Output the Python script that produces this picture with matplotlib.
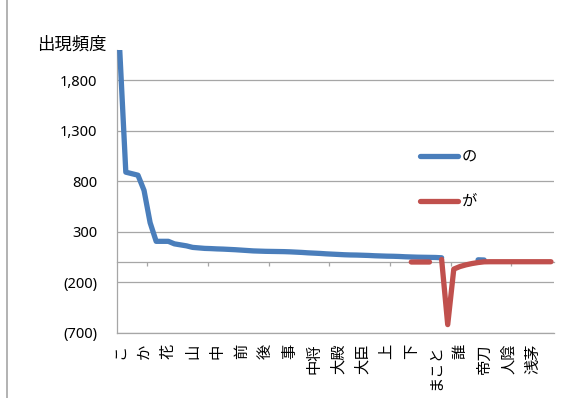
import numpy as np
import matplotlib
matplotlib.use("Agg")
import matplotlib.pyplot as plt
from matplotlib.lines import Line2D

plt.rcParams['font.family'] = ['Noto Sans CJK JP', 'DejaVu Sans']

# 72 words on the category axis, every 4th one is labelled
n_cat = 72
label_words = ['こ', 'か', '花', '山', '中', '前', '後', '事', '中将', '大殿',
               '大臣', '上', '下', 'まこと', '誰', '帝刀', '人陰', '浅茅']
label_pos = np.arange(0, n_cat, 4)

# frequency before "の" (categories 0..53)
no_freq = [2100, 890, 875, 860, 710, 390, 205, 205, 205, 180,
           170, 160, 145, 140, 135, 133, 130, 128, 125, 122,
           118, 114, 110, 108, 106, 105, 104, 103, 101, 98,
           95, 91, 88, 85, 81, 78, 75, 72, 70, 69,
           67, 65, 62, 60, 58, 57, 55, 52, 50, 48,
           47, 46, 45, 42]
no_extra = {59: 22, 60: 20}

# frequency before "が" (categories 48..71, 52 missing)
ga_start = 48
ga_freq = [0, 0, 0, 0, np.nan, 25, -620, -70, -45, -28,
           -15, -5, 2, 3, 3, 3, 3, 3, 3, 3,
           3, 3, 3, 3]

no_series = np.full(n_cat, np.nan)
no_series[:len(no_freq)] = no_freq
for k, v in no_extra.items():
    no_series[k] = v
ga_series = np.full(n_cat, np.nan)
ga_series[ga_start:ga_start + len(ga_freq)] = ga_freq

blue = '#4a7ebb'
red = '#c0504d'
grid = '#a6a6a6'

fig = plt.figure(figsize=(5.69, 3.98), dpi=100)
ax = fig.add_axes([116.7 / 569, 1 - 332.7 / 398, (554 - 116.7) / 569, (332.7 - 50) / 398])

x = np.arange(n_cat)
ax.plot(x, no_series, color=blue, lw=3.8, solid_capstyle='round',
        solid_joinstyle='round', zorder=3, label='の')
ax.plot(x, ga_series, color=red, lw=3.8, solid_capstyle='round',
        solid_joinstyle='round', zorder=4, label='が')

ax.set_xlim(-0.5, n_cat - 0.5)
ax.set_ylim(-700, 2100)

yt = [-700, -200, 300, 800, 1300, 1800]
ax.set_yticks(yt)
ax.set_yticklabels([f'({-v:,})' if v < 0 else f'{v:,}' for v in yt],
                   family=['Noto Sans', 'DejaVu Sans'], fontsize=10.5)
ax.tick_params(axis='y', length=0, pad=14)
ax.yaxis.grid(True, color=grid, lw=0.9)
ax.set_axisbelow(True)

ax.set_xticks(label_pos)
ax.set_xticklabels(label_words, rotation=90, va='top', ha='center', fontsize=11)
ax.tick_params(axis='x', length=0, pad=8)

for s in ['top', 'right']:
    ax.spines[s].set_visible(False)
for s in ['left', 'bottom']:
    ax.spines[s].set_color(grid)
    ax.spines[s].set_linewidth(0.9)

# category axis line with tick marks crosses at zero
zero_ax = ax.secondary_xaxis(0, transform=ax.transData)
zero_ax.set_xticks(np.arange(4.5, n_cat, 10))
zero_ax.set_xticklabels([])
zero_ax.tick_params(axis='x', direction='out', length=3, width=0.9, color=grid)
zero_ax.spines['bottom'].set_color(grid)
zero_ax.spines['bottom'].set_linewidth(0.9)

fig.text(37 / 569, 1 - 45 / 398, '出現頻度', fontsize=12.5, ha='left', va='center')

ax.legend(loc='center left', bbox_to_anchor=(420 / 569, 1 - 179.5 / 398),
          bbox_transform=fig.transFigure, frameon=False, fontsize=11,
          handlelength=2.5, handletextpad=0.2, labelspacing=1.8,
          borderpad=0, borderaxespad=0)

fig.add_artist(Line2D([7 / 569, 7 / 569], [0, 1], color=grid, lw=1.2,
                      transform=fig.transFigure))

fig.savefig('out.png', dpi=100)
